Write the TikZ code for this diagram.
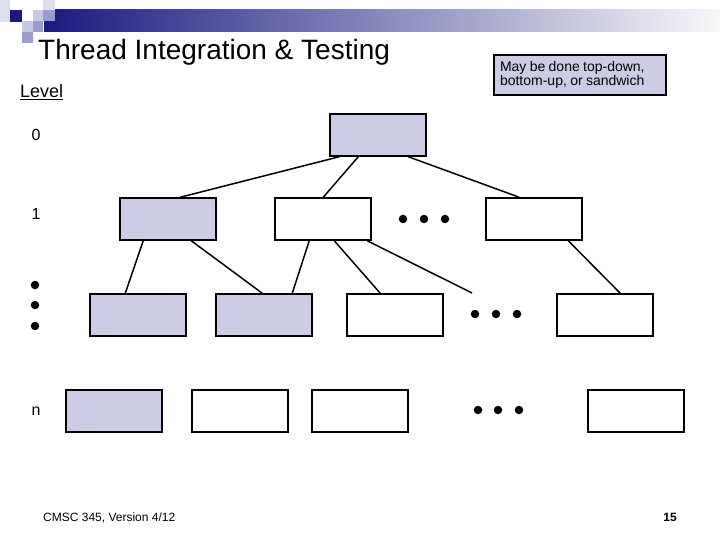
\documentclass[tikz,border=0pt]{standalone}
\usepackage{fontspec}
\setmainfont{Liberation Sans}
\definecolor{boxfill}{RGB}{204,204,230}
\definecolor{navy}{RGB}{26,26,128}
\definecolor{barmid}{RGB}{170,170,192}
\definecolor{barend}{RGB}{248,248,250}
\definecolor{palelav}{RGB}{222,222,238}
\definecolor{lav}{RGB}{200,200,228}
\definecolor{midlav}{RGB}{155,155,205}

\def\bw{96}
\def\bh{42}

\begin{document}
\begin{tikzpicture}[x=1pt,y=-1pt,
    blk/.style={draw,line width=1.5pt,minimum width=\bw pt,minimum height=\bh pt,inner sep=0pt},
    fblk/.style={blk,fill=boxfill},
    link/.style={line width=1.5pt},
    bigdot/.style={circle,fill,inner sep=0pt,minimum size=8.5pt}]
    \useasboundingbox (0,0) rectangle (720,540);

    % banner and squares
    \shade[left color=navy,middle color=barmid,right color=barend] (44,10) rectangle (720,32);
    \fill[palelav] (0,0) rectangle (10,22);
    \fill[navy] (10,10) rectangle (22,22);
    \fill[lav] (33,10) rectangle (43,21);
    \fill[palelav] (43,0) rectangle (55,10);
    \fill[midlav] (43,10) rectangle (55,21);
    \fill[lav] (22,21) rectangle (33,32);
    \fill[midlav] (33,21) rectangle (43,32);
    \fill[midlav] (22,32) rectangle (33,43);

    \node[anchor=base west,inner sep=0pt] (title) at (38,60) {\fontsize{28}{34}\selectfont Thread Integration \& Testing};
    \node[anchor=base west,inner sep=0pt] (level) at (20,98) {\fontsize{18}{22}\selectfont\underline{Level}};
    \node[draw,line width=1.5pt,fill=boxfill,minimum width=172pt,minimum height=40pt,
          text width=160pt,align=left,inner sep=4pt] (note) at (580,75)
          {\fontsize{14}{17}\selectfont May be done top-down,\\bottom-up, or sandwich};

    % level labels
    \node (lv0) at (36,135) {\fontsize{16}{19}\selectfont 0};
    \node (lv1) at (36,214) {\fontsize{16}{19}\selectfont 1};
    \node[bigdot] (lvd1) at (35,285) {};
    \node[bigdot] (lvd2) at (35,305) {};
    \node[bigdot] (lvd3) at (35,326) {};
    \node (lvn) at (36,411) {\fontsize{16}{19}\selectfont n};

    % level 0 and 1
    \node[fblk] (root) at (378,135) {};
    \node[fblk] (a) at (168,219) {};
    \node[blk] (b) at (323,219) {};
    \node[blk] (c) at (534,219) {};
    \node[bigdot] (ad1) at (403,219) {};
    \node[bigdot] (ad2) at (424,219) {};
    \node[bigdot] (ad3) at (445,219) {};

    % level 2
    \node[fblk] (d1) at (138,315) {};
    \node[fblk] (d2) at (264,315) {};
    \node[blk] (d3) at (395,315) {};
    \node[blk] (d5) at (605,315) {};
    \node[bigdot] (dd1) at (475,314) {};
    \node[bigdot] (dd2) at (496,314) {};
    \node[bigdot] (dd3) at (517,314) {};

    % level n
    \node[fblk] (e1) at (114,411) {};
    \node[blk] (e2) at (240,411) {};
    \node[blk] (e3) at (360,411) {};
    \node[blk] (e5) at (636,411) {};
    \node[bigdot] (ed1) at (478,410) {};
    \node[bigdot] (ed2) at (498,410) {};
    \node[bigdot] (ed3) at (519,410) {};

    \coordinate (tail) at (472,293);

    \draw[link] ([xshift=10pt]root.south west) -- ([xshift=61pt]a.north west);
    \draw[link] ([xshift=29pt]root.south west) -- ([xshift=49pt]b.north west);
    \draw[link] ([xshift=79pt]root.south west) -- ([xshift=34pt]c.north west);
    \draw[link] ([xshift=24pt]a.south west) -- ([xshift=36pt]d1.north west);
    \draw[link] ([xshift=72pt]a.south west) -- ([xshift=47pt]d2.north west);
    \draw[link] ([xshift=35pt]b.south west) -- ([xshift=77pt]d2.north west);
    \draw[link] ([xshift=60pt]b.south west) -- ([xshift=34pt]d3.north west);
    \draw[link] ([xshift=93pt]b.south west) -- (tail);
    \draw[link] ([xshift=83pt]c.south west) -- ([xshift=64pt]d5.north west);

    \node[anchor=base west,inner sep=0pt] (footer) at (43,521) {\fontsize{12}{14}\selectfont CMSC 345, Version 4/12};
    \node[anchor=base,inner sep=0pt] (page) at (670,521) {\fontsize{12}{14}\selectfont\bfseries 15};
  \end{tikzpicture}
\end{document}
